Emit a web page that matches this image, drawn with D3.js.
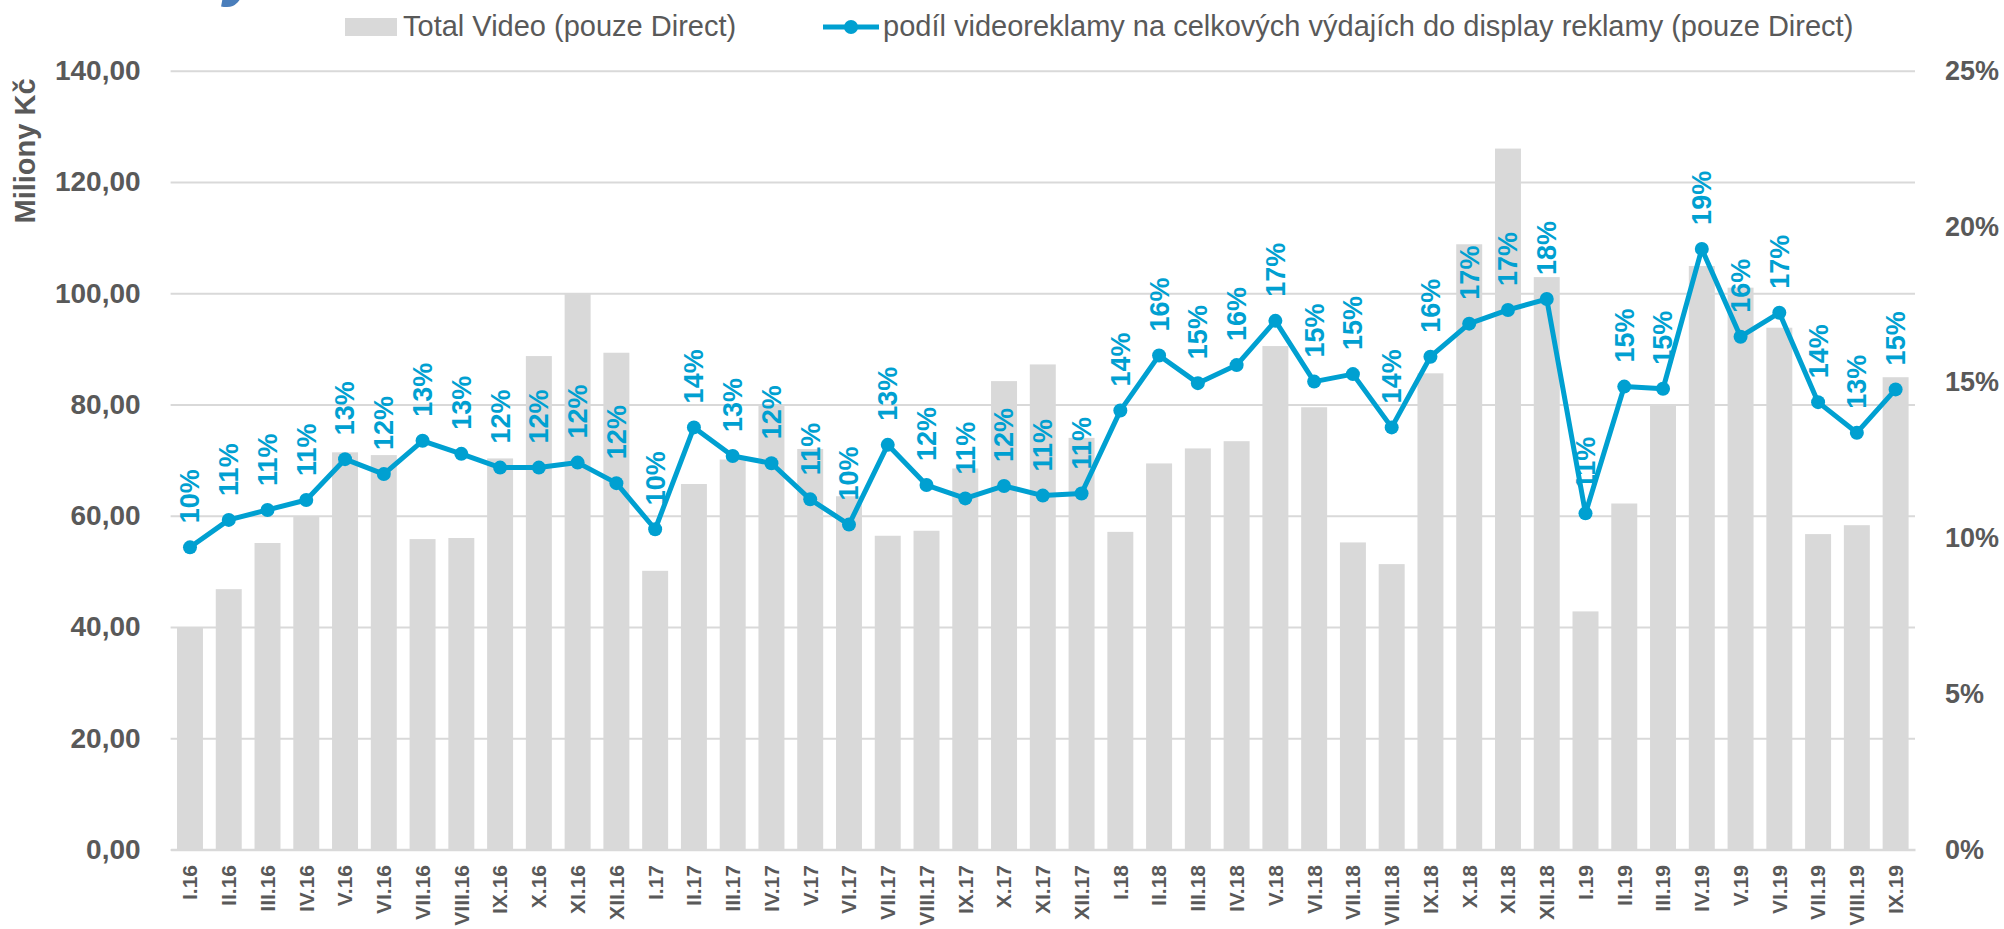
<!DOCTYPE html>
<html>
<head>
<meta charset="utf-8">
<script src="https://cdn.jsdelivr.net/npm/d3@7"></script>
<style>
  html, body { margin: 0; padding: 0; background: #fff; overflow: hidden; }
  svg { display: block; font-family: "Liberation Sans", Arial, sans-serif; }
</style>
</head>
<body>
<svg id="chart" width="2004" height="929"></svg>
<script>
// monthly categories
var months = ["I.16", "II.16", "III.16", "IV.16", "V.16", "VI.16", "VII.16", "VIII.16", "IX.16", "X.16", "XI.16", "XII.16",
              "I.17", "II.17", "III.17", "IV.17", "V.17", "VI.17", "VII.17", "VIII.17", "IX.17", "X.17", "XI.17", "XII.17",
              "I.18", "II.18", "III.18", "IV.18", "V.18", "VI.18", "VII.18", "VIII.18", "IX.18", "X.18", "XI.18", "XII.18",
              "I.19", "II.19", "III.19", "IV.19", "V.19", "VI.19", "VII.19", "VIII.19", "IX.19"];

// Total Video (pouze Direct), mil. Kč
var videoSpend = [40.0, 46.8, 55.1, 59.9, 71.4, 70.9, 55.8, 56.0, 70.3, 88.7, 100.0, 89.3,
                  50.1, 65.7, 70.1, 79.8, 72.0, 63.5, 56.4, 57.3, 68.5, 84.2, 87.2, 74.0,
                  57.1, 69.4, 72.1, 73.4, 90.5, 79.5, 55.2, 51.3, 85.6, 108.8, 126.0, 102.9,
                  42.8, 62.2, 79.8, 104.9, 101.0, 93.8, 56.7, 58.3, 84.9];

// share of video in display spend, %
var videoShare = [9.7, 10.58, 10.9, 11.22, 12.53, 12.05, 13.12, 12.7, 12.26, 12.26, 12.42, 11.76,
                  10.28, 13.55, 12.63, 12.4, 11.24, 10.43, 12.99, 11.7, 11.27, 11.67, 11.36, 11.43,
                  14.09, 15.86, 14.97, 15.55, 16.97, 15.02, 15.26, 13.55, 15.82, 16.88, 17.32, 17.67,
                  10.79, 14.86, 14.79, 19.28, 16.46, 17.23, 14.36, 13.38, 14.77];

var leftTicks = [0, 20, 40, 60, 80, 100, 120, 140];
var rightTicks = [0, 5, 10, 15, 20, 25];

var barName = "Total Video (pouze Direct)";
var lineName = "podíl videoreklamy na celkových výdajích do display reklamy (pouze Direct)";
var axisTitle = "Miliony Kč";

var gray = "#595959", grid = "#d9d9d9", blue = "#00a0d1";

var svg = d3.select("#chart");

var plot = { left: 170.6, right: 1915, top: 70.7, bottom: 849.5 };

var x = d3.scaleBand().domain(months)
    .range([plot.left, plot.right])
    .paddingInner(0.33).paddingOuter(0.165);
var y = d3.scaleLinear().domain([0, 140]).range([plot.bottom, plot.top]);
var y2 = d3.scaleLinear().domain([0, 25]).range([plot.bottom, plot.top]);

var czLocale = d3.formatLocale({ decimal: ",", thousands: " ", grouping: [3], currency: ["", " Kč"] });
var fmtLeft = czLocale.format(".2f");

// cut-off slide title (only the descender is visible)
svg.append("text")
    .attr("x", 224).attr("y", -8)
    .style("font-size", "70px").style("font-weight", "bold").style("font-style", "italic")
    .style("fill", "#4a7ebb")
    .text("y");

// left axis with gridlines
var gLeft = svg.append("g")
    .attr("transform", "translate(" + plot.left + ",0)")
    .call(d3.axisLeft(y).tickValues(leftTicks).tickFormat(fmtLeft)
        .tickSize(-(plot.right - plot.left)).tickPadding(30));
gLeft.select(".domain").remove();
gLeft.selectAll("line").attr("stroke", grid).attr("stroke-width", 2);
gLeft.selectAll("text")
    .style("font-size", "28px").style("font-weight", "bold").style("fill", gray)
    .style("font-family", null);

// right axis
var gRight = svg.append("g")
    .attr("transform", "translate(" + plot.right + ",0)")
    .call(d3.axisRight(y2).tickValues(rightTicks).tickFormat(function(d) { return d + "%"; })
        .tickSize(0).tickPadding(30));
gRight.select(".domain").remove();
gRight.selectAll("text")
    .style("font-size", "27px").style("font-weight", "bold").style("fill", gray)
    .style("font-family", null);

// bars
svg.append("g").selectAll("rect")
    .data(videoSpend)
    .enter().append("rect")
    .attr("x", function(d, i) { return x(months[i]); })
    .attr("y", function(d) { return y(d); })
    .attr("width", x.bandwidth())
    .attr("height", function(d) { return y(0) - y(d); })
    .attr("fill", grid);

// bottom axis
var gBottom = svg.append("g")
    .attr("transform", "translate(0," + plot.bottom + ")")
    .call(d3.axisBottom(x).tickSize(0).tickSizeOuter(0));
gBottom.select(".domain").attr("stroke", grid).attr("stroke-width", 2.5);
gBottom.selectAll("text")
    .attr("transform", "rotate(-90)")
    .attr("x", -15.5).attr("y", 0).attr("dy", "0.35em")
    .style("text-anchor", "end")
    .style("font-size", "21px").style("font-weight", "bold").style("fill", gray)
    .style("font-family", null);

// share line
var cx = function(i) { return x(months[i]) + x.bandwidth() / 2; };
var line = d3.line()
    .x(function(d, i) { return cx(i); })
    .y(function(d) { return y2(d); });

svg.append("path")
    .datum(videoShare)
    .attr("d", line)
    .attr("fill", "none")
    .attr("stroke", blue)
    .attr("stroke-width", 5)
    .attr("stroke-linejoin", "round");

svg.append("g").selectAll("circle")
    .data(videoShare)
    .enter().append("circle")
    .attr("cx", function(d, i) { return cx(i); })
    .attr("cy", function(d) { return y2(d); })
    .attr("r", 7)
    .attr("fill", blue);

// data labels
svg.append("g").selectAll("text")
    .data(videoShare)
    .enter().append("text")
    .attr("transform", function(d, i) {
        return "translate(" + cx(i) + "," + (y2(d) - 24) + ") rotate(-90)";
    })
    .attr("dy", "0.35em")
    .style("font-size", "27px").style("font-weight", "bold").style("fill", blue)
    .text(function(d) { return d3.format(".0%")(d / 100); });

// axis title
svg.append("text")
    .attr("transform", "translate(35,151) rotate(-90)")
    .style("text-anchor", "middle")
    .style("font-size", "29px").style("font-weight", "bold").style("fill", gray)
    .text(axisTitle);

// legend
var legend = svg.append("g");
legend.append("rect")
    .attr("x", 345).attr("y", 18).attr("width", 52).attr("height", 18)
    .attr("fill", grid);
legend.append("text")
    .attr("x", 403).attr("y", 36)
    .style("font-size", "29px").style("fill", gray)
    .text(barName);
legend.append("line")
    .attr("x1", 823).attr("x2", 879).attr("y1", 27).attr("y2", 27)
    .attr("stroke", blue).attr("stroke-width", 5);
legend.append("circle")
    .attr("cx", 851).attr("cy", 27).attr("r", 7)
    .attr("fill", blue);
legend.append("text")
    .attr("x", 883).attr("y", 36)
    .style("font-size", "29px").style("fill", gray)
    .text(lineName);
</script>
</body>
</html>
